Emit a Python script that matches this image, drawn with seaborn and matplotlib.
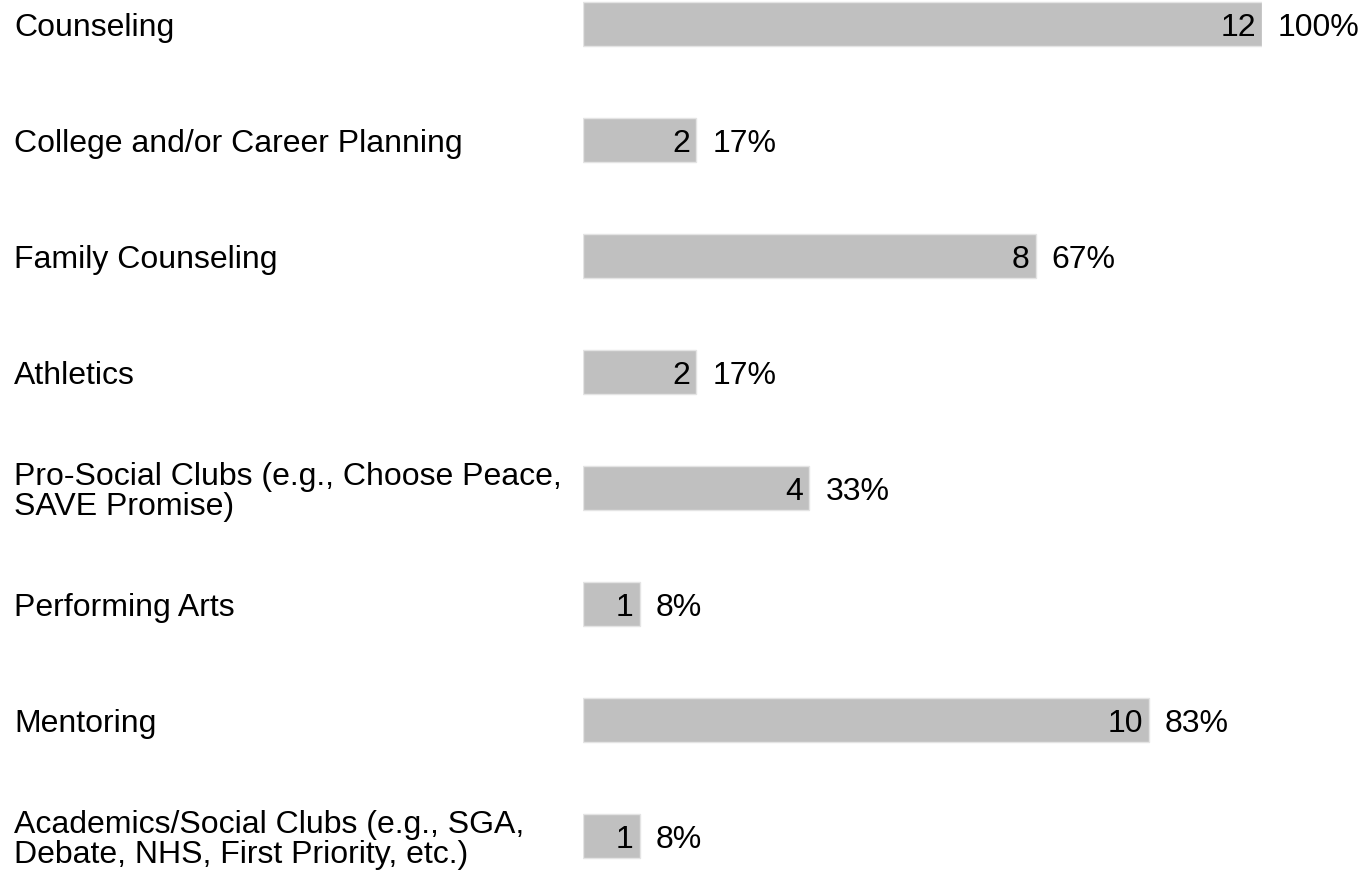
import matplotlib
matplotlib.use("Agg")
import matplotlib.pyplot as plt
import seaborn as sns
import pandas as pd

categories = [
    "Counseling",
    "College and/or Career Planning",
    "Family Counseling",
    "Athletics",
    "Pro-Social Clubs (e.g., Choose Peace,\nSAVE Promise)",
    "Performing Arts",
    "Mentoring",
    "Academics/Social Clubs (e.g., SGA,\nDebate, NHS, First Priority, etc.)",
]
counts = [12, 2, 8, 2, 4, 1, 10, 1]
percents = ["100%", "17%", "67%", "17%", "33%", "8%", "83%", "8%"]

sns.set_theme(style="white")
plt.rcParams["font.family"] = ["Liberation Sans", "DejaVu Sans"]

df = pd.DataFrame({"cat": categories, "count": counts})

fig = plt.figure(figsize=(13.65, 8.71), dpi=100)
ax = fig.add_axes([583 / 1365, 0, (1262 - 583) / 1365, 1])
sns.barplot(data=df, y="cat", x="count", orient="h", color="#c0c0c0",
            width=0.38, edgecolor="#e4e4e4", linewidth=1, saturation=1, ax=ax)
ax.set_xlim(0, 12)
ax.set_ylim(7.302, -0.207)
ax.set_xlabel("")
ax.set_ylabel("")
ax.set_xticks([])
ax.set_yticks([])
for s in ax.spines.values():
    s.set_visible(False)

fs = 23
for i, (cat, c, p) in enumerate(zip(categories, counts, percents)):
    ax.annotate(str(c), xy=(c, i), xytext=(-6, -4), textcoords="offset pixels",
                ha="right", va="center", fontsize=fs, color="black")
    ax.annotate(p, xy=(c, i), xytext=(16, -4), textcoords="offset pixels",
                ha="left", va="center", fontsize=fs, color="black",
                annotation_clip=False)
    ax.annotate(cat, xy=(0, i), xycoords=("figure pixels", "data"),
                xytext=(14, -4), textcoords="offset pixels",
                ha="left", va="center", fontsize=fs, color="black",
                linespacing=1.0, annotation_clip=False)

fig.savefig("out.png", dpi=100)
